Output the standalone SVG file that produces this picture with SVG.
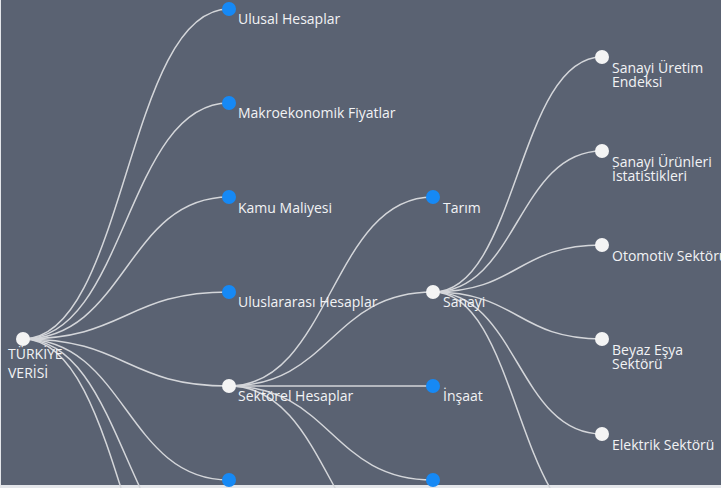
<svg xmlns="http://www.w3.org/2000/svg" width="721" height="488" viewBox="0 0 721 488">
<style>
.bg{fill:#5a6272}
.link{fill:none;stroke:#d4d6da;stroke-width:1.5}
.nw{fill:#f4f4f4}
.nb{fill:#1689f5}
text{font-family:"Open Sans","Noto Sans","Liberation Sans",sans-serif;font-size:14px;fill:#f2f3f5}
.root{font-size:14px}
</style>
<rect x="0" y="0" width="721" height="488" fill="#e4e6ea"/>
<rect class="bg" x="1" y="0" width="720" height="485"/>
<g id="connectors">
<path class="link" d="M23,339 C126,339 126,9 229,9"/>
<path class="link" d="M23,339 C126,339 126,103 229,103"/>
<path class="link" d="M23,339 C126,339 126,197 229,197"/>
<path class="link" d="M23,339 C126,339 126,292 229,292"/>
<path class="link" d="M23,339 C126,339 126,386 229,386"/>
<path class="link" d="M23,339 C126,339 126,480 229,480"/>
<path class="link" d="M23,339 C126,339 126,574 229,574"/>
<path class="link" d="M23,339 C126,339 126,669 229,669"/>
<path class="link" d="M229,386 C331,386 331,197 433,197"/>
<path class="link" d="M229,386 C331,386 331,292 433,292"/>
<path class="link" d="M229,386 C331,386 331,386 433,386"/>
<path class="link" d="M229,386 C331,386 331,480 433,480"/>
<path class="link" d="M229,386 C331,386 331,575 433,575"/>
<path class="link" d="M433,292 C517.5,292 517.5,57 602,57"/>
<path class="link" d="M433,292 C517.5,292 517.5,151 602,151"/>
<path class="link" d="M433,292 C517.5,292 517.5,245 602,245"/>
<path class="link" d="M433,292 C517.5,292 517.5,339 602,339"/>
<path class="link" d="M433,292 C517.5,292 517.5,434 602,434"/>
<path class="link" d="M433,292 C517.5,292 517.5,528 602,528"/>
</g>
<g id="node-turkiye-verisi">
<circle class="nw" cx="23" cy="339" r="7"/>
<text class="root" x="8" y="359">TÜRKİYE</text>
<text class="root" x="8" y="378">VERİSİ</text>
</g>
<g id="node-ulusal-hesaplar">
<circle class="nb" cx="229" cy="9" r="7"/>
<text x="238" y="24">Ulusal Hesaplar</text>
</g>
<g id="node-makroekonomik-fiyatlar">
<circle class="nb" cx="229" cy="103" r="7"/>
<text x="238" y="118">Makroekonomik Fiyatlar</text>
</g>
<g id="node-kamu-maliyesi">
<circle class="nb" cx="229" cy="197" r="7"/>
<text x="238" y="213">Kamu Maliyesi</text>
</g>
<g id="node-uluslararasi-hesaplar">
<circle class="nb" cx="229" cy="292" r="7"/>
<text x="238" y="307">Uluslararası Hesaplar</text>
</g>
<g id="node-sektorel-hesaplar">
<circle class="nw" cx="229" cy="386" r="7"/>
<text x="238" y="401">Sektörel Hesaplar</text>
</g>
<g id="node-l1-6">
<circle class="nb" cx="229" cy="480" r="7"/>
</g>
<g id="node-tarim">
<circle class="nb" cx="433" cy="197" r="7"/>
<text x="443" y="213">Tarım</text>
</g>
<g id="node-sanayi">
<circle class="nw" cx="433" cy="292" r="7"/>
<text x="443" y="307">Sanayi</text>
</g>
<g id="node-insaat">
<circle class="nb" cx="433" cy="386" r="7"/>
<text x="443" y="401">İnşaat</text>
</g>
<g id="node-l2-4">
<circle class="nb" cx="433" cy="480" r="7"/>
</g>
<g id="node-sanayi-uretim-endeksi">
<circle class="nw" cx="602" cy="57" r="7"/>
<text x="612" y="73">Sanayi Üretim</text>
<text x="612" y="87">Endeksi</text>
</g>
<g id="node-sanayi-urunleri">
<circle class="nw" cx="602" cy="151" r="7"/>
<text x="612" y="167">Sanayi Ürünleri</text>
<text x="612" y="181">İstatistikleri</text>
</g>
<g id="node-otomotiv">
<circle class="nw" cx="602" cy="245" r="7"/>
<text x="612" y="261">Otomotiv Sektörü</text>
</g>
<g id="node-beyaz-esya">
<circle class="nw" cx="602" cy="339" r="7"/>
<text x="612" y="355">Beyaz Eşya</text>
<text x="612" y="369">Sektörü</text>
</g>
<g id="node-elektrik">
<circle class="nw" cx="602" cy="434" r="7"/>
<text x="612" y="450">Elektrik Sektörü</text>
</g>
</svg>
